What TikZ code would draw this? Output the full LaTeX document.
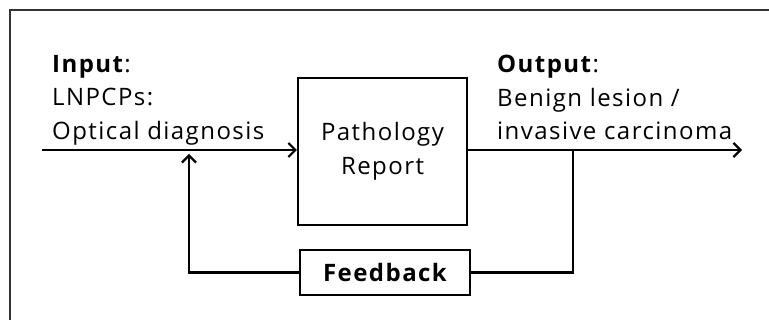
\documentclass[tikz,border=0pt]{standalone}
\usepackage{fontspec}
\setmainfont{Open Sans}[LetterSpace=6]
\usetikzlibrary{arrows.meta}
\begin{document}
\begin{tikzpicture}[x=1pt,y=-1pt,
  wire/.style={line width=2.2pt, line join=miter},
  arr/.style={wire,-{Straight Barb[length=7pt,width=14pt,line width=2.2pt]}},
  lbl/.style={anchor=north west, inner sep=0pt, align=left, font=\fontsize{24}{33.5}\selectfont},
  blk/.style={draw, line width=2.2pt, inner sep=0pt, font=\fontsize{24}{34}\selectfont}
]
\useasboundingbox (0,0) rectangle (769,320);
\begin{scope}
\clip (0,0) rectangle (769,320);
\draw[line width=2pt, draw=black!80] (10,10) rectangle (800,350);
\end{scope}
\node[blk, minimum width=169pt, minimum height=147pt, align=center] (pr) at (382.5,151.5) {Pathology\\Report};
\node[blk, minimum width=170pt, minimum height=45pt, font=\fontsize{24}{34}\selectfont\bfseries] (fb) at (385,272.5) {Feedback};
\node[lbl] (inlbl) at (52,55) {\textbf{Input}:\\LNPCPs:\\Optical diagnosis};
\node[lbl] (outlbl) at (497,55) {\textbf{Output}:\\Benign lesion /\\invasive carcinoma};
\coordinate (in) at (42,150);
\coordinate (out) at (742,150);
\coordinate (tap) at (573,150);
\coordinate (ret) at (189,154);
\draw[arr] (in) -- (in -| pr.west);
\draw[arr] (pr.east |- out) -- (out);
\draw[wire] (tap) -- (tap |- fb.east) -- (fb.east);
\draw[arr] (fb.west) -| (ret);
\end{tikzpicture}
\end{document}
